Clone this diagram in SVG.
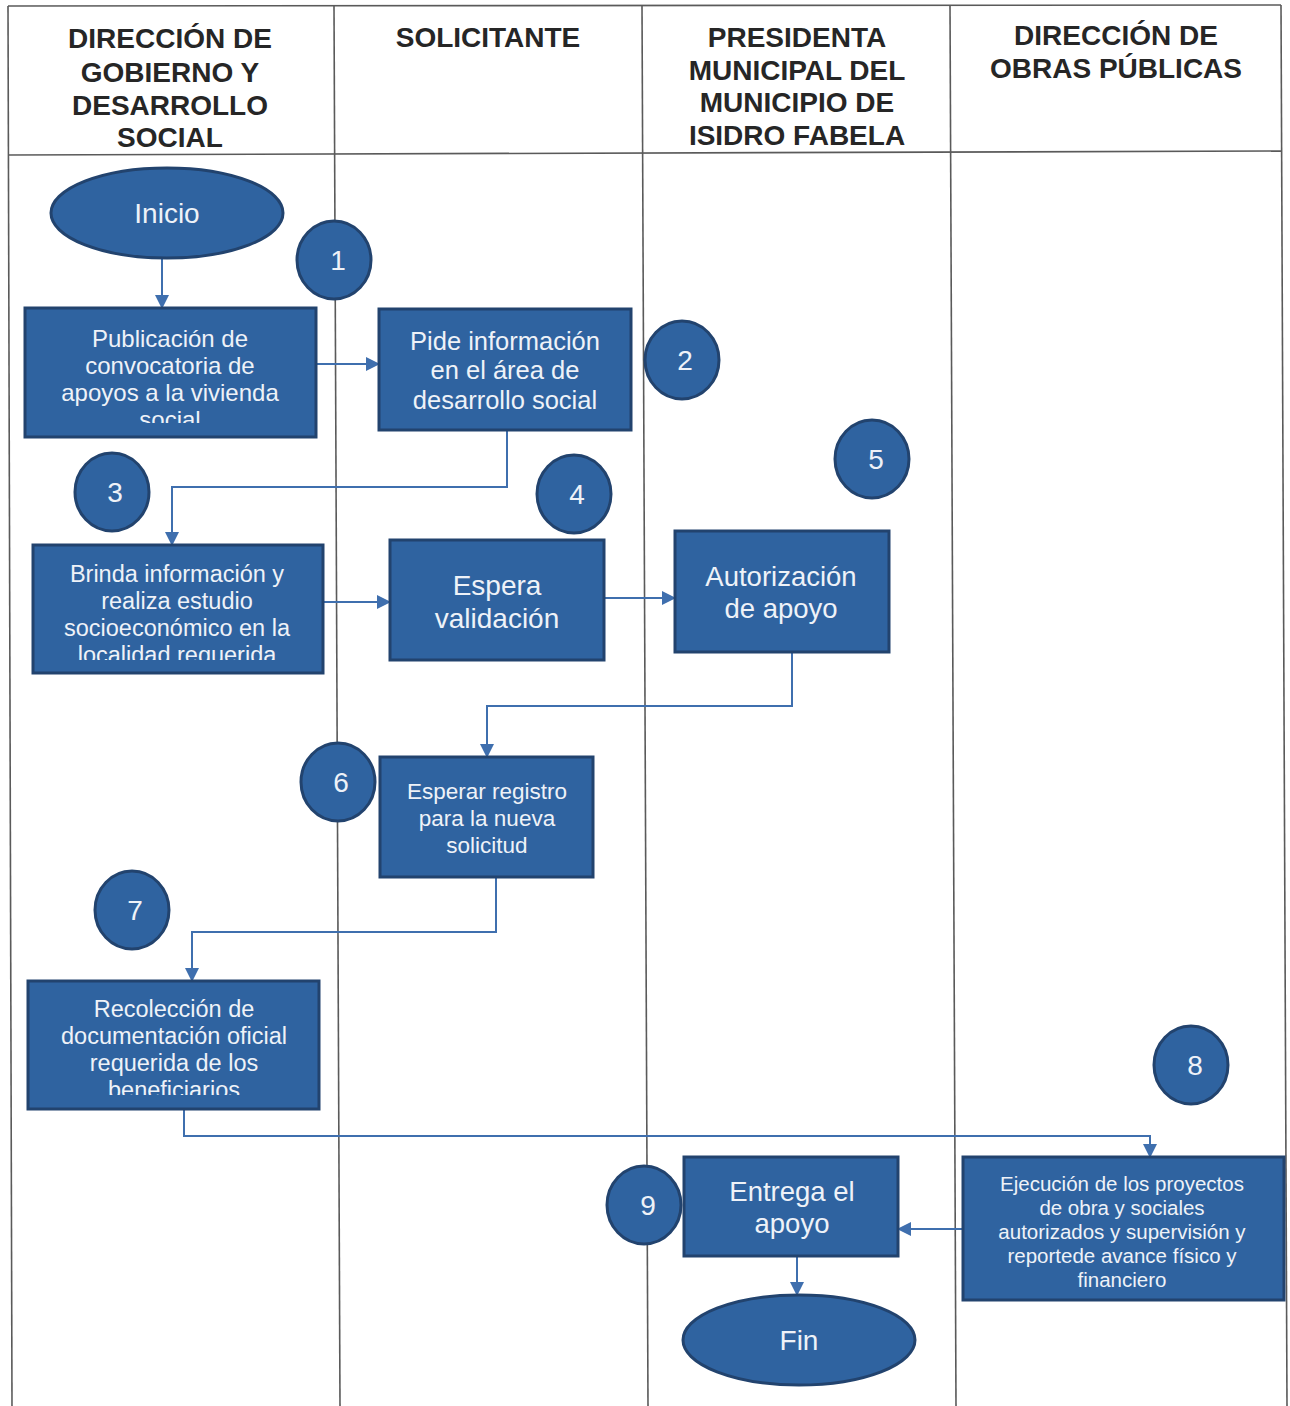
<svg xmlns="http://www.w3.org/2000/svg" width="1290" height="1406" viewBox="0 0 1290 1406">
<style>
.grid{stroke:#5a5a5a;stroke-width:1.6;fill:none}
.hd{font-family:"Liberation Sans",Arial,sans-serif;font-weight:bold;font-size:28px;fill:#262626;text-anchor:middle}
.box{fill:#2f63a0;stroke:#22436e;stroke-width:3}
.num{fill:#2f63a0;stroke:#22436e;stroke-width:3}
.t{font-family:"Liberation Sans",Arial,sans-serif;fill:#eef2f8;text-anchor:middle}
.c{stroke:#3f6fae;stroke-width:2;fill:none;marker-end:url(#ah)}
</style>
<defs>
<marker id="ah" viewBox="0 0 14 14" refX="13" refY="7" markerWidth="14" markerHeight="14" markerUnits="userSpaceOnUse" orient="auto">
<path d="M0,0 L14,7 L0,14 Z" fill="#3f6fae"/>
</marker>
<clipPath id="cp1"><rect x="25" y="308" width="291" height="115"/></clipPath>
<clipPath id="cp3"><rect x="33" y="545" width="290" height="115"/></clipPath>
<clipPath id="cp7"><rect x="28" y="981" width="291" height="114"/></clipPath>
</defs>
<rect width="1290" height="1406" fill="#ffffff"/>
<g id="table">
<line class="grid" x1="8" y1="6" x2="1281" y2="5"/>
<line class="grid" x1="8" y1="155" x2="1281" y2="151"/>
<line class="grid" x1="8" y1="6" x2="12" y2="1406"/>
<line class="grid" x1="334" y1="6" x2="340" y2="1406"/>
<line class="grid" x1="642" y1="5" x2="648" y2="1406"/>
<line class="grid" x1="950" y1="5" x2="956" y2="1406"/>
<line class="grid" x1="1281" y1="5" x2="1287" y2="1406"/>
<text class="hd" x="170" y="48">DIRECCIÓN DE</text>
<text class="hd" x="170" y="82">GOBIERNO Y</text>
<text class="hd" x="170" y="115">DESARROLLO</text>
<text class="hd" x="170" y="147">SOCIAL</text>
<text class="hd" x="488" y="47">SOLICITANTE</text>
<text class="hd" x="797" y="47">PRESIDENTA</text>
<text class="hd" x="797" y="80">MUNICIPAL DEL</text>
<text class="hd" x="797" y="112">MUNICIPIO DE</text>
<text class="hd" x="797" y="145">ISIDRO FABELA</text>
<text class="hd" x="1116" y="45">DIRECCIÓN DE</text>
<text class="hd" x="1116" y="78">OBRAS PÚBLICAS</text>
</g>
<g id="connectors">
<path class="c" d="M162,258 V308"/>
<path class="c" d="M316,364 H379"/>
<path class="c" d="M507,430 V487 H172 V545"/>
<path class="c" d="M323,602 H390"/>
<path class="c" d="M604,598 H675"/>
<path class="c" d="M792,652 V706 H487 V757"/>
<path class="c" d="M496,877 V932 H192 V981"/>
<path class="c" d="M184,1109 V1136 H1150 V1157"/>
<path class="c" d="M963,1229 H898"/>
<path class="c" d="M797,1256 V1295"/>
</g>
<g id="inicio"><ellipse class="box" cx="167" cy="213" rx="116" ry="45"/><text class="t" x="167" y="223" font-size="28">Inicio</text></g>
<g id="n1"><ellipse class="num" cx="334" cy="260" rx="37" ry="39"/><text class="t" x="338" y="270" font-size="28">1</text></g>
<g id="publicacion"><rect class="box" x="25" y="308" width="291" height="129"/>
<g clip-path="url(#cp1)" font-size="24"><text class="t" x="170" y="347">Publicación de</text><text class="t" x="170" y="374">convocatoria de</text><text class="t" x="170" y="401">apoyos a la vivienda</text><text class="t" x="170" y="428">social</text></g></g>
<g id="pide"><rect class="box" x="379" y="309" width="252" height="121"/>
<text class="t" x="505" y="350" font-size="25.5">Pide información</text><text class="t" x="505" y="379" font-size="25.5">en el área de</text><text class="t" x="505" y="409" font-size="25.5">desarrollo social</text></g>
<g id="n2"><ellipse class="num" cx="682" cy="360" rx="37" ry="39"/><text class="t" x="685" y="370" font-size="28">2</text></g>
<g id="n3"><ellipse class="num" cx="112" cy="492" rx="37" ry="39"/><text class="t" x="115" y="502" font-size="28">3</text></g>
<g id="n4"><ellipse class="num" cx="574" cy="494" rx="37" ry="39"/><text class="t" x="577" y="504" font-size="28">4</text></g>
<g id="n5"><ellipse class="num" cx="872" cy="459" rx="37" ry="39"/><text class="t" x="876" y="469" font-size="28">5</text></g>
<g id="brinda"><rect class="box" x="33" y="545" width="290" height="128"/>
<g clip-path="url(#cp3)" font-size="23.5"><text class="t" x="177" y="582">Brinda información y</text><text class="t" x="177" y="609">realiza estudio</text><text class="t" x="177" y="636">socioeconómico en la</text><text class="t" x="177" y="663">localidad requerida</text></g></g>
<g id="espera"><rect class="box" x="390" y="540" width="214" height="120"/>
<text class="t" x="497" y="595" font-size="28">Espera</text><text class="t" x="497" y="628" font-size="28">validación</text></g>
<g id="autorizacion"><rect class="box" x="675" y="531" width="214" height="121"/>
<text class="t" x="781" y="586" font-size="27.5">Autorización</text><text class="t" x="781" y="618" font-size="27.5">de apoyo</text></g>
<g id="n6"><ellipse class="num" cx="338" cy="782" rx="37" ry="39"/><text class="t" x="341" y="792" font-size="28">6</text></g>
<g id="esperar"><rect class="box" x="380" y="757" width="213" height="120"/>
<text class="t" x="487" y="799" font-size="22.5">Esperar registro</text><text class="t" x="487" y="826" font-size="22.5">para la nueva</text><text class="t" x="487" y="853" font-size="22.5">solicitud</text></g>
<g id="n7"><ellipse class="num" cx="132" cy="910" rx="37" ry="39"/><text class="t" x="135" y="920" font-size="28">7</text></g>
<g id="recoleccion"><rect class="box" x="28" y="981" width="291" height="128"/>
<g clip-path="url(#cp7)" font-size="23.5"><text class="t" x="174" y="1017">Recolección de</text><text class="t" x="174" y="1044">documentación oficial</text><text class="t" x="174" y="1071">requerida de los</text><text class="t" x="174" y="1098">beneficiarios</text></g></g>
<g id="n8"><ellipse class="num" cx="1191" cy="1065" rx="37" ry="39"/><text class="t" x="1195" y="1075" font-size="28">8</text></g>
<g id="n9"><ellipse class="num" cx="644" cy="1205" rx="37" ry="39"/><text class="t" x="648" y="1215" font-size="28">9</text></g>
<g id="entrega"><rect class="box" x="684" y="1157" width="214" height="99"/>
<text class="t" x="792" y="1201" font-size="27.5">Entrega el</text><text class="t" x="792" y="1233" font-size="27.5">apoyo</text></g>
<g id="ejecucion"><rect class="box" x="963" y="1157" width="321" height="143"/>
<g font-size="20.5"><text class="t" x="1122" y="1191">Ejecución de los proyectos</text><text class="t" x="1122" y="1215">de obra y sociales</text><text class="t" x="1122" y="1239">autorizados y supervisión y</text><text class="t" x="1122" y="1263">reportede avance físico y</text><text class="t" x="1122" y="1287">financiero</text></g></g>
<g id="fin"><ellipse class="box" cx="799" cy="1340" rx="116" ry="45"/><text class="t" x="799" y="1350" font-size="28">Fin</text></g>
</svg>
